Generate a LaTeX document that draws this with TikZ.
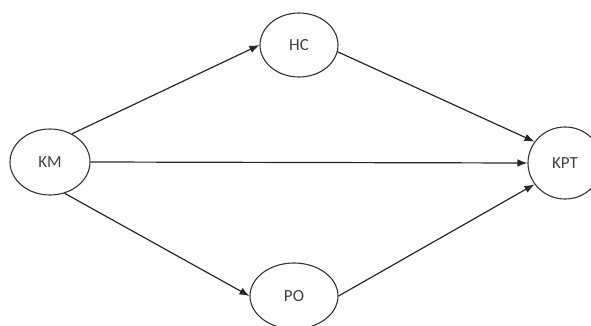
\documentclass[tikz,border=0pt]{standalone}
\usepackage{fontspec}
\setmainfont{Carlito}
\usetikzlibrary{shapes.geometric, arrows.meta}

\begin{document}
\begin{tikzpicture}[x=1pt, y=-1pt,
    var/.style={ellipse, draw=black!80, line width=1.1pt, inner sep=0pt,
      font=\fontsize{17}{19}\selectfont, text=black!75},
    path/.style={-{Latex[length=10pt,width=7.5pt]}, draw=black!85, line width=1.2pt}]
        \useasboundingbox (0,0) rectangle (591,326);
        % variables
        \node[var, minimum width=80pt, minimum height=66pt] (km) at (50,162) {KM};
        \node[var, minimum width=78pt, minimum height=64pt] (hc) at (299,45) {HC};
        \node[var, minimum width=74pt, minimum height=72pt] (kpt) at (565,163) {KPT};
        \node[var, minimum width=88pt, minimum height=66pt] (po) at (294,296) {PO};
        % paths
        \draw[path] (km.52) -- (hc.west);
        \draw[path] (km.east) -- (kpt.west);
        \draw[path] (km.-65) -- (po.west);
        \draw[path] (hc.-10) -- (kpt.145);
        \draw[path] (po.east) -- (kpt.-145);
\end{tikzpicture}
\end{document}
